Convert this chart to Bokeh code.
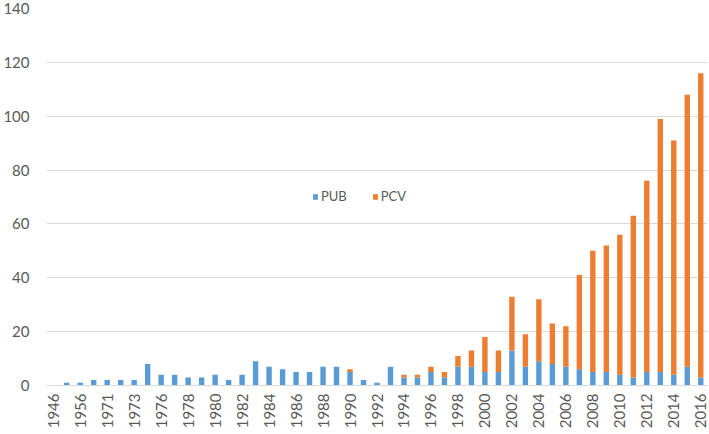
import math
from bokeh.plotting import figure
from bokeh.models import ColumnDataSource, FixedTicker, Legend
from bokeh.embed import file_html
from bokeh.resources import INLINE

years = ["1946", "1953", "1956", "1968", "1971", "1972", "1973", "1975",
         "1976", "1977", "1978", "1979", "1980", "1981", "1982", "1983",
         "1984", "1985", "1986", "1987", "1988", "1989", "1990", "1991",
         "1992", "1993", "1994", "1995", "1996", "1997", "1998", "1999",
         "2000", "2001", "2002", "2003", "2004", "2005", "2006", "2007",
         "2008", "2009", "2010", "2011", "2012", "2013", "2014", "2015", "2016"]
pub = [0, 1, 1, 2, 2, 2, 2, 8,
       4, 4, 3, 3, 4, 2, 4, 9,
       7, 6, 5, 5, 7, 7, 5, 2,
       1, 7, 3, 3, 5, 3, 7, 7,
       5, 5, 13, 7, 9, 8, 7, 6,
       5, 5, 4, 3, 5, 5, 4, 7, 3]
pcv = [0, 0, 0, 0, 0, 0, 0, 0,
       0, 0, 0, 0, 0, 0, 0, 0,
       0, 0, 0, 0, 0, 0, 1, 0,
       0, 0, 1, 1, 2, 2, 4, 6,
       13, 8, 20, 12, 23, 15, 15, 35,
       45, 47, 52, 60, 71, 94, 87, 101, 113]
y_ticks = [0, 20, 40, 60, 80, 100, 120, 140]

src = ColumnDataSource(dict(x=list(range(len(years))), PUB=pub, PCV=pcv))

FONT = "Lato"
TXT = "#595959"

p = figure(width=709, height=434, output_backend="svg", toolbar_location=None,
           x_range=(-0.5, len(years) - 0.5), y_range=(0, 140),
           min_border_left=45, min_border_right=2, min_border_top=8,
           min_border_bottom=49)
p.outline_line_color = None
p.background_fill_color = "white"
p.border_fill_color = "white"

r = p.vbar_stack(["PUB", "PCV"], x="x", width=0.4, source=src,
                 color=["#5B9BD5", "#ED7D31"], line_color=None)

p.xgrid.grid_line_color = None
p.ygrid.grid_line_color = "#D9D9D9"
p.ygrid.grid_line_width = 1

p.yaxis.ticker = FixedTicker(ticks=y_ticks)
p.yaxis.axis_line_color = None
p.yaxis.major_tick_line_color = None
p.yaxis.minor_tick_line_color = None
p.yaxis.major_tick_out = 0
p.yaxis.major_tick_in = 0
p.yaxis.minor_tick_out = 0
p.yaxis.major_label_standoff = 17
p.yaxis.major_label_text_font = FONT
p.yaxis.major_label_text_font_size = "15px"
p.yaxis.major_label_text_color = TXT

p.xaxis.ticker = FixedTicker(ticks=list(range(0, len(years), 2)))
p.xaxis.major_label_overrides = {i: years[i] for i in range(0, len(years), 2)}
p.xaxis.major_label_orientation = math.pi / 2
p.xaxis.axis_line_color = "#D9D9D9"
p.xaxis.axis_line_width = 1
p.xaxis.major_tick_line_color = None
p.xaxis.minor_tick_line_color = None
p.xaxis.major_tick_out = 0
p.xaxis.major_tick_in = 0
p.xaxis.minor_tick_out = 0
p.xaxis.major_label_standoff = 8
p.xaxis.major_label_text_font = FONT
p.xaxis.major_label_text_font_size = "15px"
p.xaxis.major_label_text_color = TXT

legend = Legend(items=[("PUB", [r[0]]), ("PCV", [r[1]])],
                location=(266, 181), orientation="horizontal",
                border_line_color=None, background_fill_alpha=0,
                padding=0, margin=0, spacing=25,
                glyph_width=6, glyph_height=7, label_standoff=3,
                label_height=16,
                label_text_font=FONT, label_text_font_size="13px",
                label_text_color=TXT)
p.add_layout(legend, "center")

open("out.html", "w").write(file_html(p, INLINE))
